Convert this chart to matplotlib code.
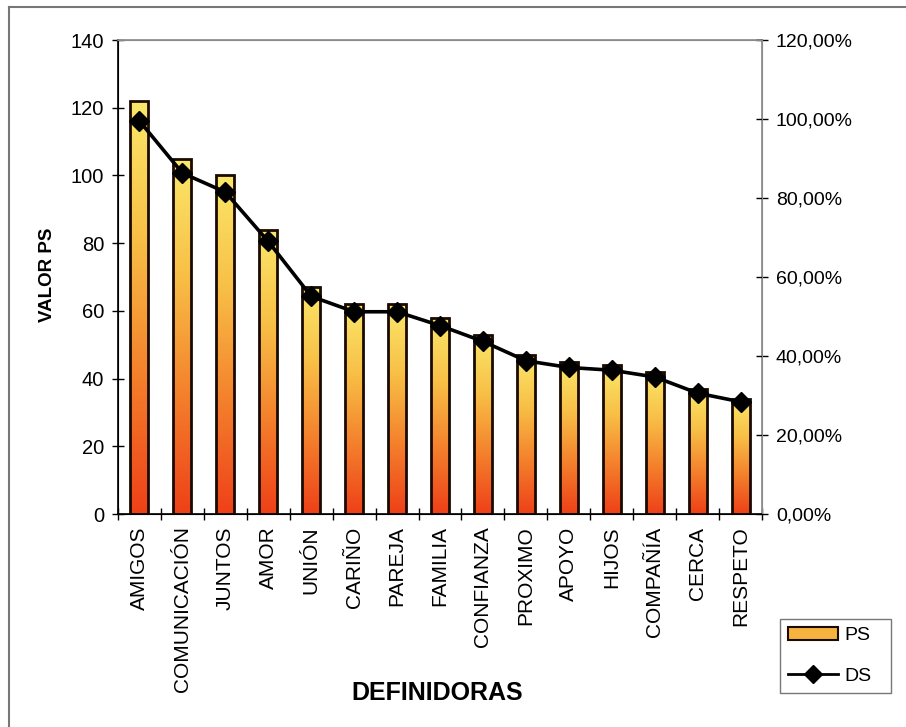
import numpy as np
import matplotlib.pyplot as plt
from matplotlib.colors import LinearSegmentedColormap
from matplotlib.patches import Rectangle
from matplotlib.lines import Line2D
from matplotlib.ticker import FuncFormatter

plt.rcParams["font.family"] = ["Liberation Sans", "DejaVu Sans"]

# data
categories = ["AMIGOS", "COMUNICACIÓN", "JUNTOS", "AMOR", "UNIÓN", "CARIÑO",
              "PAREJA", "FAMILIA", "CONFIANZA", "PROXIMO", "APOYO", "HIJOS",
              "COMPAÑÍA", "CERCA", "RESPETO"]
ps_values = [122, 105, 100, 84, 67, 62, 62, 58, 53, 47, 45, 44, 42, 37, 34]
ds_values = [99.5, 86.3, 81.5, 69.0, 55.1, 51.2, 51.2, 47.7, 43.7, 38.8,
             37.1, 36.4, 34.7, 30.6, 28.4]

grad = LinearSegmentedColormap.from_list(
    "bar", ["#ee4018", "#f4802c", "#f8bf46", "#fae86a"])
BAR_W = 0.42

fig = plt.figure(figsize=(9.06, 7.27), dpi=100)
ax = fig.add_axes([118 / 906, 1 - 514 / 727, (762 - 118) / 906, (514 - 40) / 727])

x = np.arange(len(categories))
gimg = np.linspace(0, 1, 256).reshape(-1, 1)
bars = ax.bar(x, ps_values, width=BAR_W, facecolor="none",
              edgecolor="#1a0a00", linewidth=2.0, zorder=3)
for b in bars:
    x0, y0, w, h = b.get_x(), b.get_y(), b.get_width(), b.get_height()
    im = ax.imshow(gimg, cmap=grad, aspect="auto", origin="lower",
                   extent=(x0, x0 + w, y0, y0 + h), zorder=2)
    im.set_clip_path(Rectangle((x0, y0), w, h, transform=ax.transData))

ax.set_xlim(-0.5, len(categories) - 0.5)
ax.set_ylim(0, 140)
ax.set_yticks(range(0, 141, 20))
ax.set_xticks(x)
ax.set_xticklabels(categories, rotation=90, fontsize=15)
ax.set_xticks(np.arange(-0.5, len(categories), 1), minor=True)
ax.tick_params(axis="x", which="major", length=0, pad=9)
ax.tick_params(axis="x", which="minor", direction="inout", length=8, width=1)
ax.tick_params(axis="y", direction="inout", length=8, width=1, labelsize=14.5, pad=6)
for s in ("top", "right"):
    ax.spines[s].set_color("#8a8a8a")
    ax.spines[s].set_linewidth(1.2)
for s in ("left", "bottom"):
    ax.spines[s].set_linewidth(1.2)

ax2 = ax.twinx()
ax2.plot(x, ds_values, color="black", linewidth=2.6, marker="D",
         markersize=10, zorder=5)
ax2.set_ylim(0, 120)
ax2.set_yticks(range(0, 121, 20))
ax2.yaxis.set_major_formatter(FuncFormatter(lambda v, _: f"{v:.2f}%".replace(".", ",")))
ax2.tick_params(axis="y", direction="inout", length=8, width=1, labelsize=14, pad=6)
ax2.spines["right"].set_color("#8a8a8a")
ax2.spines["top"].set_color("#8a8a8a")

fig.text(48 / 906, 1 - 275 / 727, "VALOR PS", rotation=90, fontsize=13.5,
         fontweight="bold", ha="center", va="center")
fig.text(437 / 906, 1 - 693 / 727, "DEFINIDORAS", fontsize=18,
         fontweight="bold", ha="center", va="center")

# legend
handles = [Rectangle((0, 0), 1, 1, facecolor="#f7b340", edgecolor="#1a0a00", linewidth=1.5),
           Line2D([], [], color="black", linewidth=2, marker="D", markersize=9)]
leg = fig.legend(handles, ["PS", "DS"], loc="lower left",
                 bbox_to_anchor=(780 / 906, 1 - 693 / 727, 111 / 906, 82 / 727),
                 mode="expand", fontsize=14, frameon=True, fancybox=False,
                 labelspacing=1.2, handlelength=2.6, handletextpad=0.3,
                 borderaxespad=0)
leg.get_frame().set_edgecolor("#555555")
leg.get_frame().set_linewidth(1.0)

# outer frame lines of the scanned chart
fig.add_artist(Line2D([9 / 906, 9 / 906], [0, 1 - 7 / 727], color="#777777",
                      linewidth=1.5, transform=fig.transFigure))
fig.add_artist(Line2D([9 / 906, 1], [1 - 7 / 727, 1 - 7 / 727], color="#777777",
                      linewidth=1.5, transform=fig.transFigure))

fig.savefig("out.png", dpi=100)
